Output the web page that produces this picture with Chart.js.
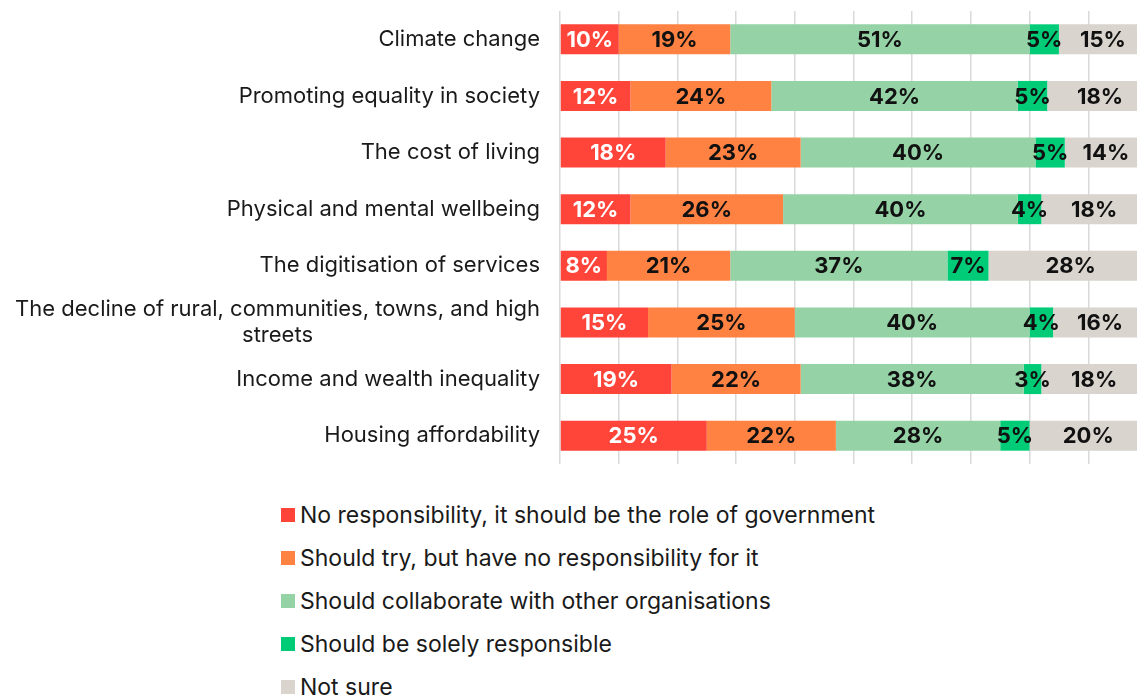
<!DOCTYPE html>
<html>
<head>
<meta charset="utf-8">
<script src="https://cdn.jsdelivr.net/npm/chart.js@4.4.1/dist/chart.umd.min.js"></script>
<style>
  body { margin: 0; background: #fff; font-family: Inter, "Noto Sans", sans-serif; }
  #wrap { position: relative; width: 1137px; height: 699px; }
  #box { position: absolute; left: 0; top: 0; width: 1137px; height: 470px; }
  #legend { position: absolute; left: 281px; top: 493px; }
  .leg-item { display: flex; align-items: center; height: 43px; font-size: 23px; color: #1a1a1a; }
  .leg-box { width: 14px; height: 14px; margin-right: 5px; }
</style>
</head>
<body>
<div id="wrap">
  <div id="box"><canvas id="Chart-0"></canvas></div>
  <div id="legend"></div>
</div>
<script>
let categories = [
    'Climate change',
    'Promoting equality in society',
    'The cost of living',
    'Physical and mental wellbeing',
    'The digitisation of services',
    ['The decline of rural, communities, towns, and high', 'streets'],
    'Income and wealth inequality',
    'Housing affordability'
]

let series_names = [
    'No responsibility, it should be the role of government',
    'Should try, but have no responsibility for it',
    'Should collaborate with other organisations',
    'Should be solely responsible',
    'Not sure'
]

let no_responsibility = [10, 12, 18, 12, 8, 15, 19, 25]
let should_try = [19, 24, 23, 26, 21, 25, 22, 22]
let collaborate = [51, 42, 40, 40, 37, 40, 38, 28]
let solely_responsible = [5, 5, 5, 4, 7, 4, 3, 5]
let not_sure = [15, 18, 14, 18, 28, 16, 18, 20]

let series_values = [no_responsibility, should_try, collaborate, solely_responsible, not_sure]
let series_colors = ['#FF453A', '#FF8243', '#95D3A6', '#00CC78', '#D9D4CE']
let label_colors = ['#ffffff', '#111111', '#111111', '#111111', '#111111']

// value labels in the middle of each segment
const segmentLabels = {
    id: 'segmentLabels',
    afterDatasetsDraw(chart) {
        const ctx = chart.ctx
        ctx.save()
        ctx.font = 'bold 22px Inter, "Noto Sans", sans-serif'
        ctx.textAlign = 'center'
        ctx.textBaseline = 'middle'
        chart.data.datasets.forEach(function (ds, di) {
            const meta = chart.getDatasetMeta(di)
            ctx.fillStyle = label_colors[di]
            meta.data.forEach(function (bar, i) {
                const cx = (bar.x + bar.base) / 2
                ctx.fillText(ds.data[i] + '%', cx, bar.y + 1)
            })
        })
        ctx.restore()
    }
}

// category names on the left, multi-line ones centred as a block
const categoryLabels = {
    id: 'categoryLabels',
    afterDraw(chart) {
        const ctx = chart.ctx
        const yScale = chart.scales.y
        const right = chart.chartArea.left - 20
        const lineH = 26
        ctx.save()
        ctx.font = '22px Inter, "Noto Sans", sans-serif'
        ctx.fillStyle = '#1a1a1a'
        ctx.textBaseline = 'middle'
        categories.forEach(function (cat, i) {
            const y = yScale.getPixelForValue(i)
            const lines = Array.isArray(cat) ? cat : [cat]
            let maxW = 0
            lines.forEach(function (l) { maxW = Math.max(maxW, ctx.measureText(l).width) })
            const top = y - (lines.length - 1) * lineH / 2
            lines.forEach(function (l, k) {
                if (lines.length > 1) {
                    ctx.textAlign = 'center'
                    ctx.fillText(l, right - maxW / 2, top + k * lineH)
                } else {
                    ctx.textAlign = 'right'
                    ctx.fillText(l, right, top + k * lineH)
                }
            })
        })
        ctx.restore()
    }
}

let datasets = []
for (let i = 0; i < series_names.length; i++) {
    datasets.push({
        label: series_names[i],
        data: series_values[i],
        backgroundColor: series_colors[i],
        borderWidth: 0,
        barPercentage: 0.53,
        categoryPercentage: 1
    })
}

var ctx = document.getElementById('Chart-0').getContext('2d')
var chart = new Chart(ctx, {
    type: 'bar',
    data: {
        labels: categories,
        datasets: datasets
    },
    options: {
        indexAxis: 'y',
        responsive: true,
        maintainAspectRatio: false,
        animation: false,
        layout: {
            padding: { left: 560, top: 11, bottom: 6, right: 0 }
        },
        plugins: {
            legend: { display: false },
            tooltip: { enabled: false }
        },
        scales: {
            x: {
                stacked: true,
                min: 0,
                max: 98.3,
                ticks: { display: false, stepSize: 10, includeBounds: false },
                grid: { color: '#d9d9d9', lineWidth: 1.5, drawTicks: false },
                border: { display: false }
            },
            y: {
                stacked: true,
                display: false
            }
        }
    },
    plugins: [segmentLabels, categoryLabels]
})

function build_legend() {
    let html = ''
    for (let i = 0; i < series_names.length; i++) {
        html += '<div class="leg-item"><span class="leg-box" style="background:' + series_colors[i] + '"></span>' + series_names[i] + '</div>'
    }
    document.getElementById('legend').innerHTML = html
}

build_legend()
</script>
</body>
</html>
